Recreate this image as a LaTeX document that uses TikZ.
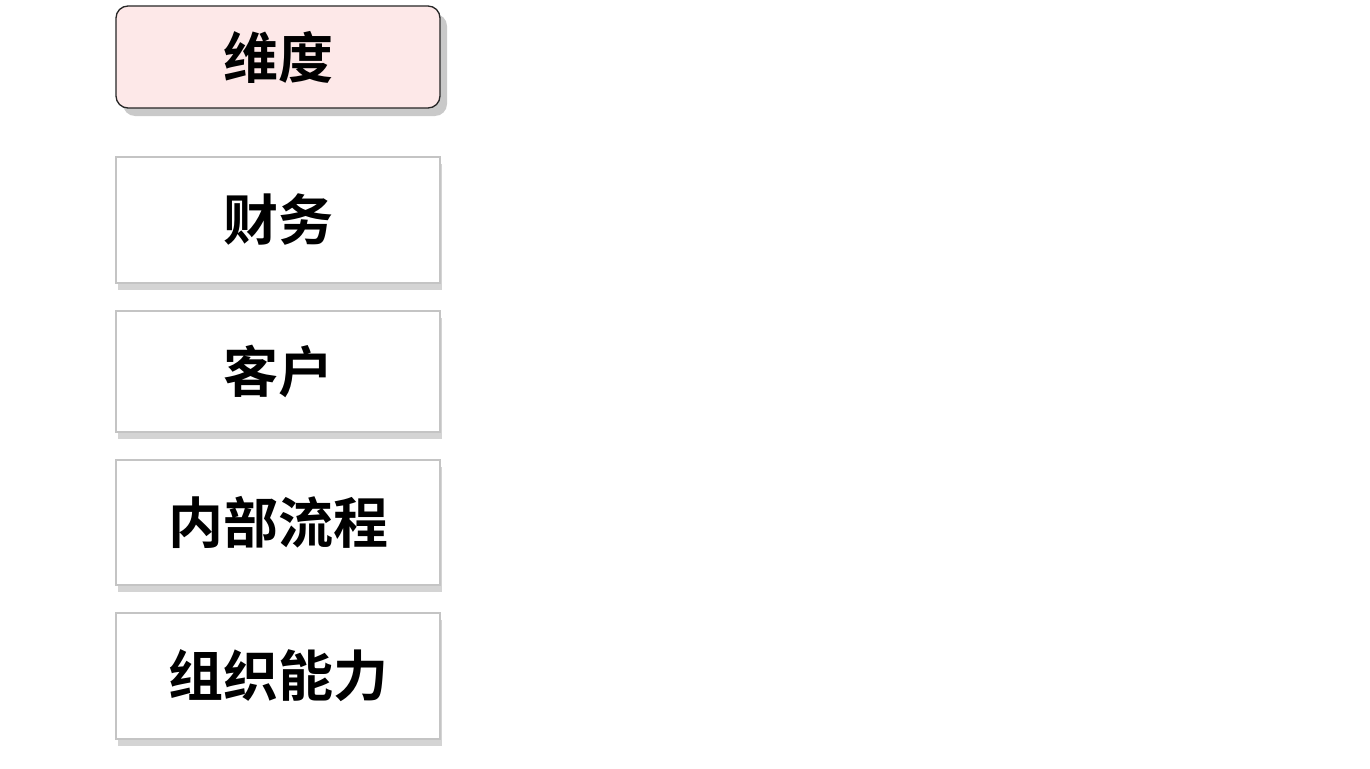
\documentclass[tikz,border=0pt]{standalone}
\usepackage{fontspec}
\newfontfamily\cjkbold{Noto Sans CJK SC Bold}
\usetikzlibrary{shadows}
\definecolor{headpink}{HTML}{FDE8E8}
\definecolor{boxline}{HTML}{C4C4C4}

\begin{document}
\begin{tikzpicture}[x=1pt,y=-1pt,
    dimbox/.style={draw=black!85,line width=1.3pt,fill=headpink,rounded corners=12pt,
        minimum width=324pt,minimum height=102pt,inner sep=0pt,
        font=\cjkbold\fontsize{55}{64}\selectfont,
        drop shadow={shadow xshift=7pt,shadow yshift=-8pt,opacity=0.35,fill=black!60}},
    itembox/.style={draw=boxline,line width=1.2pt,fill=white,
        minimum width=324pt,inner sep=0pt,
        font=\cjkbold\fontsize{55}{64}\selectfont,
        drop shadow={shadow xshift=2pt,shadow yshift=-7pt,opacity=0.3,fill=black!55}}]
        \useasboundingbox (0,0) rectangle (1370,768);
        \fill [white] (0,0) rectangle (1370,768);
        \node[dimbox] (dim) at (278,57) {维度};
        \node[itembox,minimum height=126pt] (fin) at (278,220) {财务};
        \node[itembox,minimum height=121pt] (cust) at (278,371.5) {客户};
        \node[itembox,minimum height=125pt] (proc) at (278,522.5) {内部流程};
        \node[itembox,minimum height=126pt] (org) at (278,676) {组织能力};
    \end{tikzpicture}
\end{document}
